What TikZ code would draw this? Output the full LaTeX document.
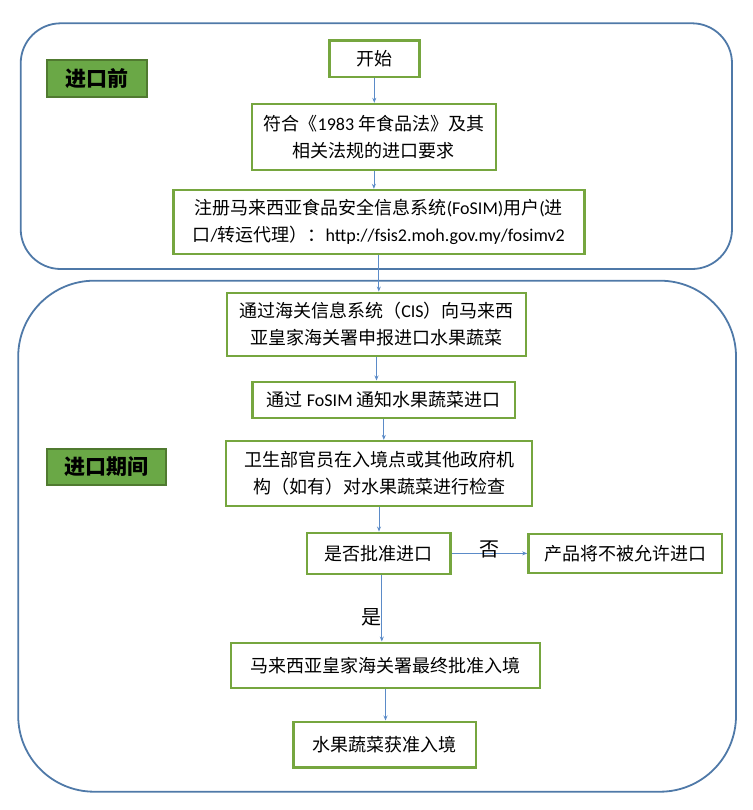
\documentclass[tikz,border=0pt]{standalone}
\usepackage{fontspec}
\setmainfont{Noto Sans CJK SC}
\newfontfamily\latin{Carlito}
\usepackage{xcolor}
\usetikzlibrary{positioning,arrows.meta}
\definecolor{frameblue}{RGB}{79,121,168}
\definecolor{boxgreen}{RGB}{118,166,63}
\definecolor{tabgreen}{RGB}{106,168,70}
\definecolor{tabedge}{RGB}{80,122,48}
\definecolor{arrowblue}{RGB}{91,139,200}

\begin{document}
\begin{tikzpicture}[x=1pt, y=-1pt,
	  stepbox/.style = {draw=boxgreen, fill=white, line width=2.4pt,
	    align=center, inner sep=0pt, font=\fontsize{18}{27}\selectfont},
	  phase/.style = {draw=tabedge, fill=tabgreen, line width=2pt,
	    inner sep=0pt, font=\fontsize{21}{25}\selectfont\bfseries},
	  region/.style = {draw=frameblue, line width=1.8pt},
	  flow/.style = {draw=arrowblue, line width=0.8pt,
	    -{Stealth[length=5pt,width=4pt]}},
	  choice/.style = {font=\fontsize{20}{24}\selectfont, inner sep=0pt}]
	  \useasboundingbox (0,0) rectangle (752,810);
	  % the two phases
	  \draw[region, rounded corners=40pt] (20.7,23.3) rectangle (732,269);
	  \draw[region, rounded corners=76pt] (18.2,280.7) rectangle (736,791.7);
	  \node[phase, minimum width=99.4pt, minimum height=36.7pt] (pre) at (97,78.4) {进口前};
	  \node[phase, minimum width=119pt, minimum height=36pt] (during) at (106,467) {进口期间};
	  % steps
	  \node[stepbox, minimum width=90pt, minimum height=36.6pt] (start) at (374.3,59) {开始};
	  \node[stepbox, minimum width=244.3pt, minimum height=66pt] (law) at (373.9,137)
	    {符合《{\latin 1983} 年食品法》及其\\相关法规的进口要求};
	  \node[stepbox, minimum width=411pt, minimum height=64pt] (reg) at (378.8,222)
	    {注册马来西亚食品安全信息系统{\latin (FoSIM)}用户{\latin (}进\\口{\latin /}转运代理）：{\latin http://fsis2.moh.gov.my/fosimv2}};
	  \node[stepbox, minimum width=299pt, minimum height=63.3pt] (cis) at (376.5,324.4)
	    {通过海关信息系统（{\latin CIS}）向马来西\\亚皇家海关署申报进口水果蔬菜};
	  \node[stepbox, minimum width=262.4pt, minimum height=36pt] (fosim) at (383.8,399.7)
	    {通过 {\latin FoSIM} 通知水果蔬菜进口};
	  \node[stepbox, minimum width=306pt, minimum height=64.7pt] (inspect) at (379,473.4)
	    {卫生部官员在入境点或其他政府机\\构（如有）对水果蔬菜进行检查};
	  \node[stepbox, minimum width=143.6pt, minimum height=41.3pt] (approve) at (378.8,553.4) {是否批准进口};
	  \node[stepbox, minimum width=193.7pt, minimum height=39pt] (reject) at (625.2,553.5) {产品将不被允许进口};
	  \node[stepbox, minimum width=309pt, minimum height=45pt] (customs) at (385.5,665.2)
	    {马来西亚皇家海关署最终批准入境};
	  \node[stepbox, minimum width=182.6pt, minimum height=45.6pt] (release) at (384.7,744.5) {水果蔬菜获准入境};
	  % connectors
	  \draw[flow] (start.south) -- (start.south |- law.north);
	  \draw[flow] (law.south) -- (law.south |- reg.north);
	  \draw[flow] (reg.south) -- (reg.south |- cis.north);
	  \draw[flow] (cis.south) -- (cis.south |- fosim.north);
	  \draw[flow] (fosim.south) -- (fosim.south |- inspect.north);
	  \draw[flow] (inspect.south) -- (inspect.south |- approve.north);
	  \draw[flow] (approve.east) -- node[choice, midway, yshift=4pt] {否} (approve.east -| reject.west);
	  \draw[flow] ([xshift=3pt]approve.south) -- node[choice, pos=0.64, left] {是}
	    ([xshift=3pt]approve.south |- customs.north);
	  \draw[flow] (customs.south) -- (customs.south |- release.north);
\end{tikzpicture}
\end{document}
